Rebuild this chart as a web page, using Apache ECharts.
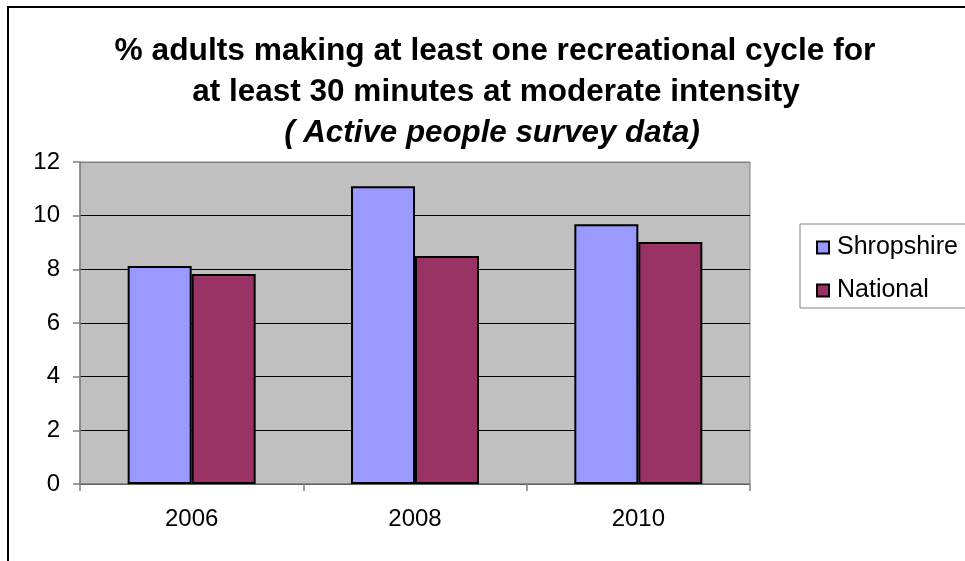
<!DOCTYPE html>
<html><head><meta charset="utf-8">
<script src="https://cdn.jsdelivr.net/npm/echarts@6/dist/echarts.min.js"></script>
<style>html,body{margin:0;padding:0;background:#fff}#c{width:965px;height:561px}</style>
</head><body><div id="c"></div>
<script>
const categories = ['2006', '2008', '2010'];
const shropshire = [8.12, 11.1, 9.68];
const national = [7.83, 8.5, 9.02];
const seriesNames = ['Shropshire', 'National'];
const titleLines = ['% adults making at least one recreational cycle for', 'at least 30 minutes at moderate intensity', '( Active people survey data)'];
const yTicks = {min: 0, max: 12, interval: 2};

const F = '"Liberation Sans", Arial, sans-serif';
const chart = echarts.init(document.getElementById('c'), null, {renderer: 'canvas'});
chart.setOption({
  animation: false,
  backgroundColor: '#fff',
  grid: {left: 80, right: 215, top: 162, bottom: 77, show: true, backgroundColor: '#c0c0c0', borderColor: '#808080', borderWidth: 1},
  xAxis: {
    type: 'category', data: categories, boundaryGap: true,
    axisLine: {lineStyle: {color: '#808080', width: 1.5}},
    axisTick: {show: true, inside: false, length: 7, lineStyle: {color: '#808080', width: 1.5}},
    axisLabel: {color: '#000', fontFamily: F, fontSize: 24, margin: 23}
  },
  yAxis: {
    type: 'value', min: yTicks.min, max: yTicks.max, interval: yTicks.interval,
    axisLine: {show: true, lineStyle: {color: '#808080', width: 1.5}},
    axisTick: {show: true, length: 7, lineStyle: {color: '#808080', width: 1.5}},
    axisLabel: {color: '#000', fontFamily: F, fontSize: 24, margin: 20},
    splitLine: {show: true, lineStyle: {color: ['#000', '#000', '#000', '#000', '#000', '#000', '#808080'], width: 1}}
  },
  legend: {
    orient: 'vertical', left: 811, top: 230, itemWidth: 12, itemHeight: 12, itemGap: 18,
    data: seriesNames,
    textStyle: {color: '#000', fontFamily: F, fontSize: 25, padding: [0, 0, 0, 3]},
    icon: 'rect'
  },
  series: [
    {name: seriesNames[0], type: 'bar', data: shropshire, barWidth: 64, barGap: '0%',
     itemStyle: {color: '#9999ff', borderColor: '#000', borderWidth: 2}},
    {name: seriesNames[1], type: 'bar', data: national, barWidth: 64, barGap: '0%',
     itemStyle: {color: '#993366', borderColor: '#000', borderWidth: 2}}
  ],
  graphic: [
    {type: 'rect', shape: {x: 8, y: 7, width: 980, height: 580}, style: {fill: 'none', stroke: '#000', lineWidth: 2}, silent: true},
    {type: 'rect', shape: {x: 800, y: 224, width: 180, height: 84}, style: {fill: '#fff', stroke: '#808080', lineWidth: 1}, silent: true, z: -1},
    {type: 'text', x: 495, y: 51, style: {text: titleLines[0], font: 'bold 31.7px ' + F, fill: '#000', textAlign: 'center', textVerticalAlign: 'middle'}},
    {type: 'text', x: 496, y: 92, style: {text: titleLines[1], font: 'bold 31.5px ' + F, fill: '#000', textAlign: 'center', textVerticalAlign: 'middle'}},
    {type: 'text', x: 492, y: 133, style: {text: titleLines[2], font: 'italic bold 31.3px ' + F, fill: '#000', textAlign: 'center', textVerticalAlign: 'middle'}}
  ]
});
</script></body></html>
